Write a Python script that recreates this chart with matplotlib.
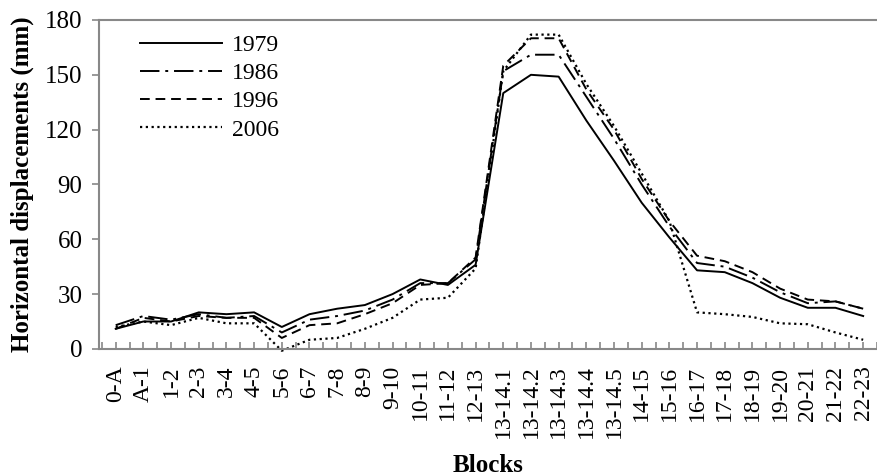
import matplotlib
matplotlib.use("Agg")
import matplotlib.pyplot as plt

blocks = ["0-A", "A-1", "1-2", "2-3", "3-4", "4-5", "5-6", "6-7", "7-8", "8-9",
          "9-10", "10-11", "11-12", "12-13", "13-14.1", "13-14.2", "13-14.3",
          "13-14.4", "13-14.5", "14-15", "15-16", "16-17", "17-18", "18-19",
          "19-20", "20-21", "21-22", "22-23"]

y1979 = [11, 15, 15, 20, 19, 20, 12, 19, 22, 24, 30, 38, 35, 46, 140, 150, 149,
         125, 103, 80, 61, 43, 42, 36, 28, 22.5, 22.5, 18]
y1986 = [13, 18, 16, 19, 17, 18, 9, 16, 18, 21, 27, 36, 36, 49, 152, 161, 161,
         138, 115, 90, 67, 47, 45, 39, 31, 25, 26, 22]
y1996 = [11, 17, 15, 18, 17, 17, 6, 13, 14, 19, 25, 35, 36, 50, 155, 170, 170,
         142, 120, 93, 70, 51, 48, 42, 33, 27, 26, 22]
y2006 = [12, 15, 13, 17, 14, 14, -1, 5, 6, 11, 17, 27, 28, 44, 152, 172, 172,
         145, 122, 96, 70, 20, 19, 17.5, 14, 13.5, 9, 5]

plt.rcParams['font.family'] = ['Liberation Serif', 'DejaVu Serif']

fig = plt.figure(figsize=(8.77, 4.76), dpi=100)
ax = fig.add_axes([0.113, 0.267, 0.887, 0.691])

x = list(range(len(blocks)))
ax.plot(x, y1979, color='black', lw=1.4, linestyle='-', label='1979')
ax.plot(x, y1986, color='black', lw=1.4, linestyle=(0, (10, 3, 1.5, 3)), label='1986')
ax.plot(x, y1996, color='black', lw=1.4, linestyle=(0, (5, 3)), label='1996')
ax.plot(x, y2006, color='black', lw=1.6, linestyle=(0, (1, 1.6)), label='2006', clip_on=False)

ax.set_xlim(-0.6, 27.3)
ax.set_ylim(0, 180)
ax.set_yticks(range(0, 181, 30))
ax.set_xticks(x)
ax.set_xticklabels(blocks, rotation=90, fontsize=17)
ax.set_xticks([i + 0.5 for i in range(-1, len(blocks))], minor=True)
ax.tick_params(axis='y', labelsize=18, direction='out', length=5, color='#888888', width=1.2, pad=7)
ax.tick_params(axis='x', which='both', direction='in', length=5, color='#888888', width=1.2, pad=12)

for side in ['left', 'bottom', 'top']:
    ax.spines[side].set_color('#888888')
    ax.spines[side].set_linewidth(1.5)
ax.spines['right'].set_visible(False)

ax.set_ylabel('Horizontal displacements (mm)', fontsize=18, fontweight='bold', labelpad=8)
ax.set_xlabel('Blocks', fontsize=18, fontweight='bold', labelpad=11)

ax.legend(loc='upper left', frameon=False, fontsize=17, handlelength=3.5,
          handletextpad=0.42, labelspacing=0.28, bbox_to_anchor=(0.025, 1.02))

fig.savefig('out.png', dpi=100)
